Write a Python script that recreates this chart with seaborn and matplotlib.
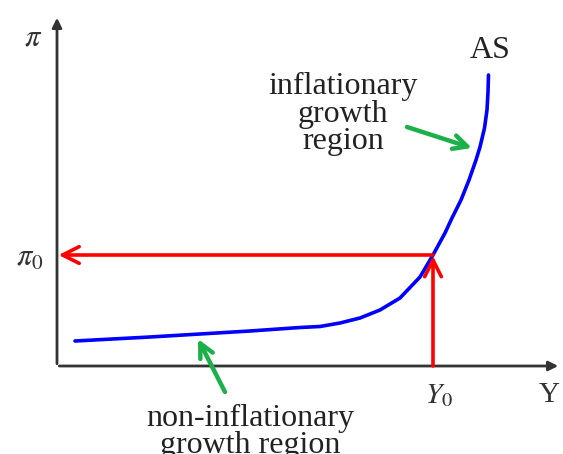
import numpy as np
import pandas as pd
import seaborn as sns
import matplotlib.pyplot as plt

# AS curve (output, inflation)
as_output = [1.8, 9.3, 14.3, 19.3, 24.3, 26.3, 28.3, 30.3, 32.3, 34.3, 36.3, 37.6,
             38.8, 39.5, 40.4, 41.2, 41.9, 42.3, 42.75, 43.0, 43.1, 43.15]
as_inflation = [2.5, 2.9, 3.2, 3.5, 3.85, 3.95, 4.3, 4.8, 5.6, 6.8, 8.9, 11.1,
                13.3, 14.8, 16.6, 18.6, 20.6, 21.9, 23.8, 25.6, 27.4, 29.1]

y0 = 37.6
pi0 = 11.1

sns.set_theme(style="white")
plt.rcParams["font.family"] = ["Liberation Serif", "DejaVu Serif"]
plt.rcParams["mathtext.fontset"] = "stix"

fig = plt.figure(figsize=(5.63, 4.54), dpi=100)
ax = fig.add_axes([0, 0, 1, 1])
ax.set_xlim(-5.7, 50.6)
ax.set_ylim(-8.8, 36.6)
ax.axis("off")

df = pd.DataFrame({"Y": as_output, "pi": as_inflation})
sns.lineplot(data=df, x="Y", y="pi", color="blue", lw=2.6, sort=False, ax=ax)

# axes with arrows
axis_col = "#333333"
ax.annotate("", xy=(0, 35.1), xytext=(0, -0.05),
            arrowprops=dict(arrowstyle="-|>", color=axis_col, lw=2, mutation_scale=14))
ax.annotate("", xy=(50.4, 0), xytext=(-0.05, 0),
            arrowprops=dict(arrowstyle="-|>", color=axis_col, lw=2, mutation_scale=14))

# red guides
ax.annotate("", xy=(0.15, pi0), xytext=(y0, pi0),
            arrowprops=dict(arrowstyle="->", color="red", lw=2.6, mutation_scale=30,
                            shrinkA=0, shrinkB=0))
ax.annotate("", xy=(y0, pi0 - 0.1), xytext=(y0, 0),
            arrowprops=dict(arrowstyle="->", color="red", lw=2.6, mutation_scale=30,
                            shrinkA=0, shrinkB=0))

# labels
ax.text(-2.4, 32.8, r"$\pi$", fontsize=22, ha="center", va="center", color="#333333")
ax.text(-2.7, 10.8, r"$\pi_0$", fontsize=22, ha="center", va="center", color="#333333")
ax.text(38.2, -3.0, r"$Y_0$", fontsize=21, ha="center", va="center", color="#333333")
ax.text(49.2, -2.9, "Y", fontsize=21, ha="center", va="center", color="#333333")
ax.text(43.3, 31.6, "AS", fontsize=23, ha="center", va="center", color="#222222")

ax.text(28.6, 25.2, "inflationary\ngrowth\nregion", fontsize=23, ha="center",
        va="center", linespacing=0.93, color="#222222")
ax.text(19.3, -6.6, "non-inflationary\ngrowth region", fontsize=23, ha="center",
        va="center", linespacing=0.93, color="#222222")

green = "#1cb04a"
ax.annotate("", xy=(41.5, 21.8), xytext=(35.0, 23.9),
            arrowprops=dict(arrowstyle="->", color=green, lw=3.2, mutation_scale=25,
                            shrinkA=0, shrinkB=0))
ax.annotate("", xy=(14.1, 2.7), xytext=(16.8, -2.6),
            arrowprops=dict(arrowstyle="->", color=green, lw=3.2, mutation_scale=25,
                            shrinkA=0, shrinkB=0))

fig.savefig("out.png", dpi=100)
